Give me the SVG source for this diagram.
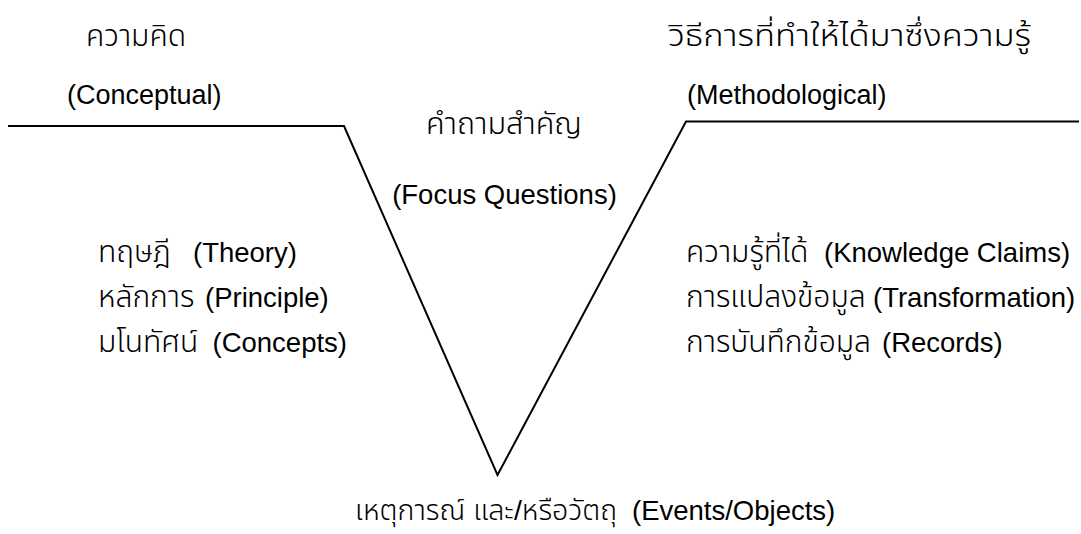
<svg xmlns="http://www.w3.org/2000/svg" width="1081" height="534" viewBox="0 0 1081 534">
<style>
text{font-family:"Liberation Sans","Noto Sans Thai","Noto Sans",sans-serif;font-size:27.5px;fill:#000}
.th{font-size:30px;font-weight:300}
.hd{font-size:27px}
.vee{fill:none;stroke:#000;stroke-width:2}
</style>
<rect width="1081" height="534" fill="#fff"/>
<g id="connectors">
<polyline class="vee" points="8,126 344,126 497.5,475 686,121.5 1079,121.5"/>
</g>
<g id="conceptual">
<text x="86" y="46" class="th">ความคิด</text>
<text x="67" y="104" class="hd">(Conceptual)</text>
</g>
<g id="methodological">
<text x="668" y="46" class="th" textLength="363" lengthAdjust="spacingAndGlyphs">วิธีการที่ทำให้ได้มาซึ่งความรู้</text>
<text x="687" y="104" class="hd">(Methodological)</text>
</g>
<g id="focus">
<text x="426" y="134" class="th" textLength="156" lengthAdjust="spacingAndGlyphs">คำถามสำคัญ</text>
<text x="504.5" y="204" text-anchor="middle">(Focus Questions)</text>
</g>
<g id="left-list">
<text x="98" y="262"><tspan class="th">ทฤษฎี </tspan><tspan x="193">(Theory)</tspan></text>
<text x="98" y="307"><tspan class="th">หลักการ </tspan><tspan x="205">(Principle)</tspan></text>
<text x="98" y="352"><tspan class="th">มโนทัศน์ </tspan><tspan x="212.5">(Concepts)</tspan></text>
</g>
<g id="right-list">
<text x="686" y="262"><tspan class="th">ความรู้ที่ได้ </tspan><tspan x="824">(Knowledge Claims)</tspan></text>
<text x="686" y="307"><tspan class="th">การแปลงข้อมูล </tspan><tspan x="873">(Transformation)</tspan></text>
<text x="686" y="352"><tspan class="th">การบันทึกข้อมูล </tspan><tspan x="882">(Records)</tspan></text>
</g>
<g id="events">
<text x="355" y="520"><tspan class="th" style="font-size:28.5px">เหตุการณ์ และ/หรือวัตถุ </tspan><tspan x="632">(Events/Objects)</tspan></text>
</g>
</svg>
